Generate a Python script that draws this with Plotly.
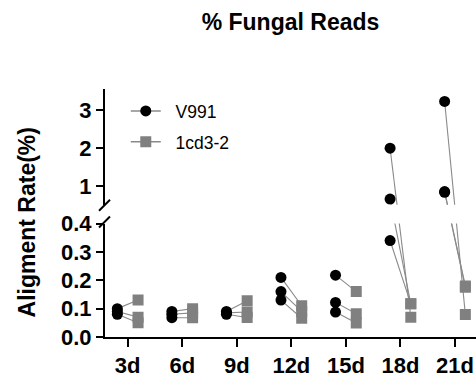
import plotly.graph_objects as go

# Sampling days and paired replicate values (alignment rate, %)
days = ["3d", "6d", "9d", "12d", "15d", "18d", "21d"]
v991 = [
    [0.100, 0.090, 0.080],
    [0.090, 0.080, 0.068],
    [0.090, 0.085, 0.080],
    [0.210, 0.160, 0.130],
    [0.218, 0.122, 0.088],
    [2.00, 0.65, 0.34],
    [3.24, 0.85, 0.83],
]
cd3_2 = [
    [0.130, 0.070, 0.050],
    [0.100, 0.085, 0.068],
    [0.128, 0.088, 0.069],
    [0.110, 0.090, 0.066],
    [0.160, 0.082, 0.049],
    [0.070, 0.117, 0.117],
    [0.079, 0.180, 0.175],
]
low_ticks = [0.0, 0.1, 0.2, 0.3, 0.4]
up_ticks = [1, 2, 3]

# Broken y axis: lower segment 0-0.4, upper segment 0.5-3.57
LOW_MAX, UP_MIN, UP_MAX = 0.4, 0.5, 3.57
D_LOW, D_UP = 0.4576, 0.5332
OFF = 0.19  # horizontal dodge of the two strains around each day

FONT = "Liberation Sans, Arial, sans-serif"
BLACK, GRAY, LINE_GRAY = "#000000", "#808080", "#8a8a8a"


def frac(v):
    """Position of a value along the broken axis, as a fraction of plot height."""
    if v <= LOW_MAX:
        return v / LOW_MAX * D_LOW
    return D_UP + (v - UP_MIN) / (UP_MAX - UP_MIN) * (1 - D_UP)


fig = go.Figure()

# connecting segments between paired samples, drawn once per axis segment
seg_x, seg_y = [], []
for i, (a_vals, b_vals) in enumerate(zip(v991, cd3_2)):
    for a, b in zip(a_vals, b_vals):
        seg_x += [i - OFF, i + OFF, None]
        seg_y += [frac(a), frac(b), None]
for ya in ("y", "y2"):
    fig.add_trace(go.Scatter(x=seg_x, y=seg_y, mode="lines", yaxis=ya,
                             line=dict(color=LINE_GRAY, width=1.1),
                             showlegend=False, hoverinfo="skip"))


def add_points(vals, dx, symbol, color):
    lo_x, lo_y, hi_x, hi_y = [], [], [], []
    for i, group in enumerate(vals):
        for v in group:
            if v <= LOW_MAX:
                lo_x.append(i + dx); lo_y.append(v)
            else:
                hi_x.append(i + dx); hi_y.append(v)
    for xs, ys, ya in ((lo_x, lo_y, "y3"), (hi_x, hi_y, "y4")):
        fig.add_trace(go.Scatter(x=xs, y=ys, mode="markers", yaxis=ya,
                                 marker=dict(symbol=symbol, size=11, color=color,
                                             line=dict(width=0)),
                                 showlegend=False))


add_points(v991, -OFF, "circle", BLACK)
add_points(cd3_2, OFF, "square", GRAY)

# legend entries
fig.add_trace(go.Scatter(x=[None], y=[None], yaxis="y4", name="\u00a0\u00a0V991",
                         mode="lines+markers", legend="legend",
                         line=dict(color=LINE_GRAY, width=1.5),
                         marker=dict(symbol="circle", size=11, color=BLACK)))
fig.add_trace(go.Scatter(x=[None], y=[None], yaxis="y4", name="\u00a0\u00a01cd3-2",
                         mode="lines+markers", legend="legend2",
                         line=dict(color=LINE_GRAY, width=1.5),
                         marker=dict(symbol="square", size=11, color=GRAY)))

TICK_FONT = dict(family=FONT, size=22, color=BLACK, weight="bold")
axis_common = dict(showline=True, linewidth=2, linecolor=BLACK, ticks="outside",
                   tickwidth=2, tickcolor=BLACK, showgrid=False,
                   zeroline=False, tickfont=TICK_FONT)

fig.update_layout(
    width=476, height=378,
    margin=dict(l=105, r=0, t=89, b=39),
    paper_bgcolor="white", plot_bgcolor="rgba(0,0,0,0)",
    xaxis=dict(range=[-0.416, 6.385], tickvals=list(range(len(days))),
               ticktext=days, anchor="y3", ticklen=8, **axis_common),
    yaxis=dict(domain=[0, D_LOW], range=[0, D_LOW], visible=False, anchor="x"),
    yaxis2=dict(domain=[D_UP, 1], range=[D_UP, 1], visible=False, anchor="x"),
    yaxis3=dict(domain=[0, D_LOW], range=[0, LOW_MAX], tickvals=low_ticks,
                tickformat=".1f", anchor="x", ticklen=7, **axis_common),
    yaxis4=dict(domain=[D_UP, 1], range=[UP_MIN, UP_MAX], tickvals=up_ticks,
                anchor="x", ticklen=7, **axis_common),
    title=dict(text="% Fungal Reads", x=0.5, xref="paper", xanchor="center",
               y=1 - 21.5 / 378, yref="container", yanchor="middle",
               font=dict(family=FONT, size=23, color=BLACK, weight="bold")),
    legend=dict(x=0.056, y=0.911, xanchor="left", yanchor="middle",
                bgcolor="rgba(0,0,0,0)", itemwidth=30,
                font=dict(family=FONT, size=17.5, color=BLACK)),
    legend2=dict(x=0.056, y=0.787, xanchor="left", yanchor="middle",
                 bgcolor="rgba(0,0,0,0)", itemwidth=30,
                 font=dict(family=FONT, size=17.5, color=BLACK)),
    annotations=[dict(text="Aligment Rate(%)", textangle=-90, xref="paper", yref="paper",
                      x=0, xshift=-78, y=0.462, xanchor="center", yanchor="middle",
                      showarrow=False,
                      font=dict(family=FONT, size=23, color=BLACK, weight="bold"))],
    shapes=[
        dict(type="line", xref="paper", yref="paper", xsizemode="pixel", ysizemode="pixel",
             xanchor=0, yanchor=D_LOW, x0=-6, x1=5, y0=-4, y1=7,
             line=dict(color=BLACK, width=2)),
        dict(type="line", xref="paper", yref="paper", xsizemode="pixel", ysizemode="pixel",
             xanchor=0, yanchor=D_UP, x0=-6, x1=5, y0=-6, y1=5,
             line=dict(color=BLACK, width=2)),
    ],
)

fig.write_html("out.html")
